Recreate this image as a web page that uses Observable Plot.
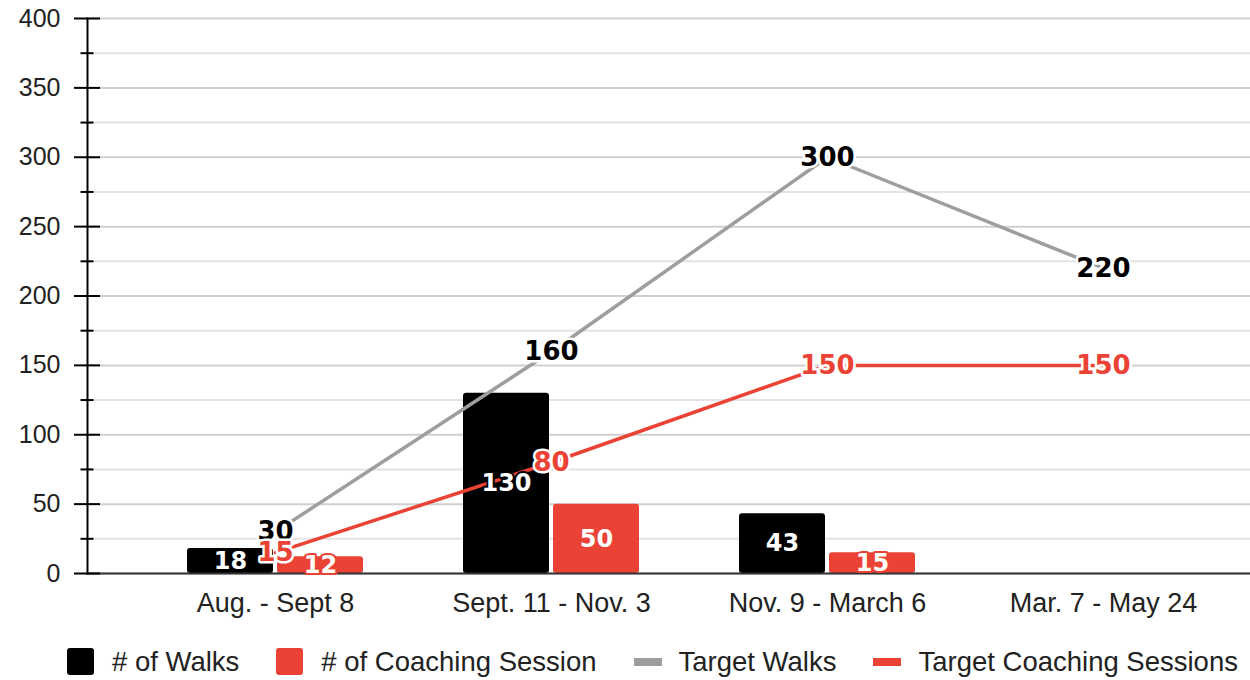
<!DOCTYPE html>
<html>
<head>
<meta charset="utf-8">
<script src="https://cdn.jsdelivr.net/npm/d3@7"></script>
<script src="https://cdn.jsdelivr.net/npm/@observablehq/plot@0.6"></script>
<style>
  html, body { margin: 0; padding: 0; background: #fff; }
  body { width: 1250px; height: 680px; overflow: hidden; font-family: "Liberation Sans", Arial, sans-serif; }
  #legend { display: flex; align-items: center; margin-top: 18px; height: 27px; padding-left: 67px; font-size: 27.5px; color: #222; }
  .item { display: flex; align-items: center; margin-right: 37px; white-space: nowrap; }
  .sw { width: 27px; height: 27px; border-radius: 3px; margin-right: 18px; }
  .ln { width: 28px; height: 8px; margin-right: 17px; }
</style>
</head>
<body>
<div id="chart"></div>
<div id="legend"></div>
<script>
const categories = ["Aug. - Sept 8", "Sept. 11 - Nov. 3", "Nov. 9 - March 6", "Mar. 7 - May 24"];
const walks = [18, 130, 43, null];
const coaching = [12, 50, 15, null];
const targetWalks = [30, 160, 300, 220];
const targetCoaching = [15, 80, 150, 150];
const majorTicks = [0, 50, 100, 150, 200, 250, 300, 350, 400];
const minorTicks = [25, 75, 125, 175, 225, 275, 325, 375];
const seriesNames = ["# of Walks", "# of Coaching Session", "Target Walks", "Target Coaching Sessions"];

const RED = "#ea4335";
const GRAY = "#9e9e9e";
const LABEL_FONT = "'DejaVu Sans', 'Liberation Sans', sans-serif";

const rows = (vals) => categories.map((c, i) => ({cat: c, value: vals[i]})).filter(d => d.value != null);
const walksRows = rows(walks);
const coachRows = rows(coaching);
const tWalkRows = rows(targetWalks);
const tCoachRows = rows(targetCoaching);

const chart = Plot.plot({
  width: 1250,
  height: 630,
  marginTop: 18,
  marginBottom: 57,
  marginLeft: 87,
  marginRight: 0,
  style: {fontFamily: "'Liberation Sans', Arial, sans-serif", fontSize: "25px", color: "#222", background: "#fff"},
  x: {type: "band", domain: categories, range: [136, 1242.5], padding: 0, label: null},
  y: {domain: [0, 400], label: null},
  marks: [
    Plot.ruleY(minorTicks, {stroke: "#e3e3e3", strokeWidth: 2}),
    Plot.ruleY(majorTicks, {stroke: "#d0d0d0", strokeWidth: 2}),
    Plot.barY(walksRows, {x: "cat", y: "value", fill: "black", insetLeft: 50, insetRight: 140, rx: 3}),
    Plot.barY(coachRows, {x: "cat", y: "value", fill: RED, insetLeft: 140, insetRight: 50, rx: 3}),
    Plot.ruleY([0], {stroke: "#333", strokeWidth: 2}),
    Plot.frame({anchor: "left", stroke: "black", strokeWidth: 2}),
    Plot.axisY(majorTicks, {tickSize: 26, dx: 13, tickPadding: 14, stroke: "black", strokeWidth: 2, fontSize: 25, fill: "#222", label: null}),
    Plot.axisY(minorTicks, {tickSize: 13, dx: 6.5, tickFormat: () => "", stroke: "black", strokeWidth: 2, label: null}),
    Plot.axisX({tickSize: 0, tickPadding: 19, fontSize: 27, fill: "#222", label: null}),
    Plot.lineY(tWalkRows, {x: "cat", y: "value", stroke: GRAY, strokeWidth: 3.5}),
    Plot.lineY(tCoachRows, {x: "cat", y: "value", stroke: RED, strokeWidth: 3.5}),
    Plot.text(walksRows, {x: "cat", y: d => d.value / 2, dx: -45, text: d => String(d.value), fill: "white", stroke: "black", strokeWidth: 4, paintOrder: "stroke", fontWeight: "bold", fontSize: 24, fontFamily: LABEL_FONT}),
    Plot.text(coachRows, {x: "cat", y: d => d.value / 2, dx: 45, text: d => String(d.value), fill: "white", stroke: RED, strokeWidth: 4, paintOrder: "stroke", fontWeight: "bold", fontSize: 24, fontFamily: LABEL_FONT}),
    Plot.text(tWalkRows, {x: "cat", y: "value", text: d => String(d.value), fill: "black", stroke: "white", strokeWidth: 5, paintOrder: "stroke", fontWeight: "bold", fontSize: 26, fontFamily: LABEL_FONT}),
    Plot.text(tCoachRows, {x: "cat", y: "value", text: d => String(d.value), fill: RED, stroke: "white", strokeWidth: 5, paintOrder: "stroke", fontWeight: "bold", fontSize: 26, fontFamily: LABEL_FONT})
  ]
});
document.getElementById("chart").appendChild(chart);

const legend = document.getElementById("legend");
const legendStyles = [
  {cls: "sw", color: "black"},
  {cls: "sw", color: RED},
  {cls: "ln", color: GRAY},
  {cls: "ln", color: RED}
];
seriesNames.forEach((name, i) => {
  const item = document.createElement("div");
  item.className = "item";
  const sw = document.createElement("span");
  sw.className = legendStyles[i].cls;
  sw.style.background = legendStyles[i].color;
  const label = document.createElement("span");
  label.textContent = name;
  item.appendChild(sw);
  item.appendChild(label);
  legend.appendChild(item);
});
</script>
</body>
</html>
